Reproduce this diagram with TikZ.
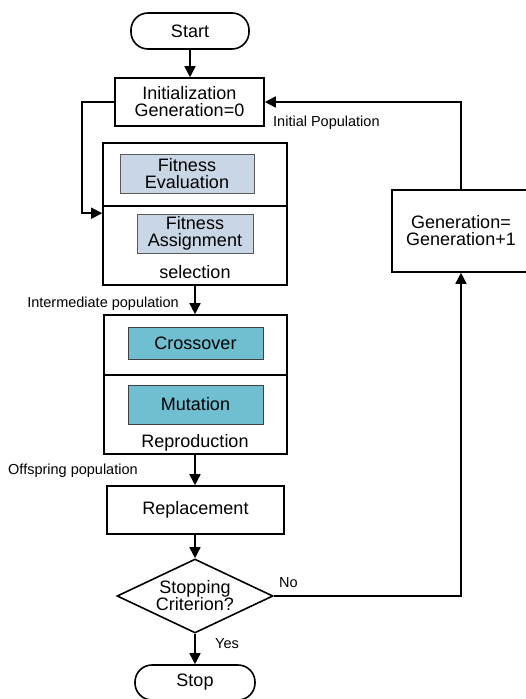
\documentclass[tikz,border=0pt]{standalone}
\usepackage{fontspec}
\setmainfont{Liberation Sans}
\usetikzlibrary{shapes.geometric,arrows.meta}
\definecolor{fitfill}{RGB}{201,214,230}
\definecolor{opfill}{RGB}{111,191,208}
\begin{document}
\begin{tikzpicture}[x=1pt,y=-1pt,
  every node/.style={font=\fontsize{18}{17}\selectfont},
  box/.style={draw, line width=1.6pt, inner sep=0pt, align=center},
  term/.style={box, rounded corners=17pt},
  fitbox/.style={draw=black!65, line width=0.9pt, fill=fitfill, inner sep=0pt, align=center},
  opbox/.style={draw=black!75, line width=0.9pt, fill=opfill, inner sep=0pt, align=center},
  lbl/.style={font=\fontsize{14.5}{16}\selectfont, inner sep=0pt},
  txt/.style={inner sep=0pt},
  arr/.style={line width=1.6pt, -{Triangle[length=11pt,width=11pt]}},
  plain/.style={line width=1.6pt}]
\useasboundingbox (0,0) rectangle (525,699);

% main column
\node[term, minimum width=118pt, minimum height=36pt] (start) at (190,31) {Start};
\node[box, minimum width=149pt, minimum height=48pt] (init) at (189.5,102) {Initialization\\Generation=0};

\node[box, minimum width=184pt, minimum height=63pt] (selA) at (195,174.5) {};
\node[box, minimum width=184pt, minimum height=79pt] (selB) at (195,245.5) {};
\node[fitbox, minimum width=134pt, minimum height=39pt] (feval) at (187,173.5) {Fitness\\Evaluation};
\node[fitbox, minimum width=116pt, minimum height=39pt] (fassign) at (195,233.5) {Fitness\\Assignment};
\node[txt, anchor=base] (seltxt) at (195,278) {selection};

\node[box, minimum width=183pt, minimum height=60pt] (repA) at (195.5,345) {};
\node[box, minimum width=183pt, minimum height=79pt] (repB) at (195.5,414.5) {};
\node[opbox, minimum width=135pt, minimum height=32pt] (cross) at (195.5,343) {Crossover};
\node[opbox, minimum width=135pt, minimum height=39pt] (mut) at (195.5,404.5) {Mutation};
\node[txt, anchor=base] (reptxt) at (195,447) {Reproduction};

\node[box, minimum width=177pt, minimum height=48pt] (repl) at (195.5,510) {Replacement};

\node[draw, line width=1.6pt, shape=diamond, aspect=2.1, inner sep=0pt,
      minimum width=156pt, minimum height=74pt, align=center] (dec) at (195,596) {Stopping\\Criterion?};

\node[term, minimum width=120pt, minimum height=35pt] (stop) at (195,682.5) {Stop};

% right loop box (its right side runs past the picture edge)
\node[box, minimum width=138pt, minimum height=82pt] (gen) at (461,231) {Generation=\\Generation+1};

% labels
\node[lbl, anchor=base west] (lip) at (273,126) {Initial Population};
\node[lbl, anchor=base east] (lim) at (179,307) {Intermediate population};
\node[lbl, anchor=base west] (lop) at (8,474) {Offspring population};
\node[lbl, anchor=base west] (lyes) at (215,648) {Yes};
\node[lbl, anchor=base west] (lno) at (279,587) {No};

% connectors
\draw[arr] (start.south) -- (init.north -| start.south);
\path (selB.north west) ++(0,8) coordinate (lp);
\draw[arr] (init.west) -- ++(-32,0) |- (lp);
\draw[arr] (selB.south) -- (repA.north -| selB.south);
\draw[arr] (repB.south -| selB.south) -- (repl.north -| selB.south);
\draw[arr] (repl.south -| dec.north) -- (dec.north);
\draw[arr] (dec.south) -- (stop.north);
\draw[arr] (dec.east) -| (gen.south);
\draw[arr] (gen.north) |- (init.east);
\end{tikzpicture}
\end{document}
